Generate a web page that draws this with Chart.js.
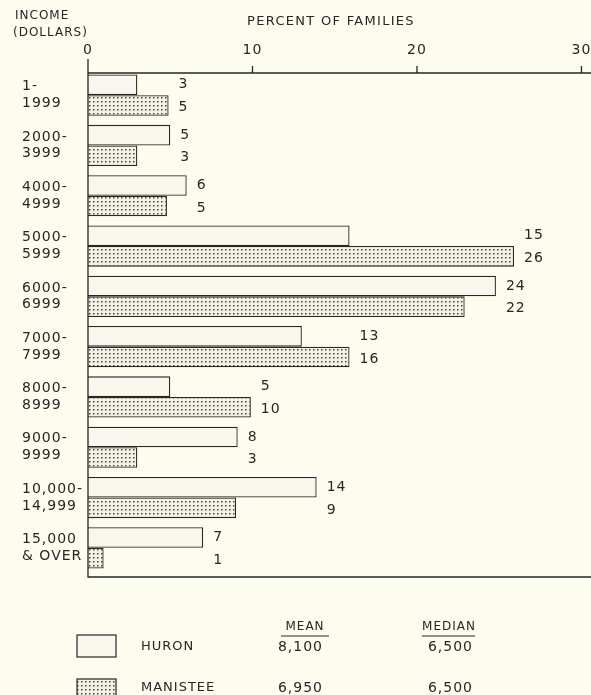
<!DOCTYPE html>
<html>
<head>
<meta charset="utf-8">
<script src="https://cdn.jsdelivr.net/npm/chart.js@4.4.1/dist/chart.umd.min.js"></script>
<style>
  html, body { margin: 0; padding: 0; background: #fdfdef; }
  #chart { width: 591px; height: 695px; }
</style>
</head>
<body>
<div id="chart"><canvas></canvas></div>
<script>
const chart = document.querySelector("#chart canvas");

// income groups (two-line labels)
const incomeGroups = [
  ["1-", "1999"],
  ["2000-", "3999"],
  ["4000-", "4999"],
  ["5000-", "5999"],
  ["6000-", "6999"],
  ["7000-", "7999"],
  ["8000-", "8999"],
  ["9000-", "9999"],
  ["10,000-", "14,999"],
  ["15,000", "& OVER"],
];

// bar lengths as drawn (percent of families)
const huronPct = [3.0, 5.0, 6.0, 15.9, 24.8, 13.0, 5.0, 9.1, 13.9, 7.0];
const manisteePct = [4.9, 3.0, 4.8, 25.9, 22.9, 15.9, 9.9, 3.0, 9.0, 0.95];

// numbers printed next to the bars
const huronText = ["3", "5", "6", "15", "24", "13", "5", "8", "14", "7"];
const manisteeText = ["5", "3", "5", "26", "22", "16", "10", "3", "9", "1"];

const xTicks = [0, 10, 20, 30];

const seriesNames = ["HURON", "MANISTEE"];
const meanIncome = ["8,100", "6,950"];
const medianIncome = ["6,500", "6,500"];

const ink = "#262626";
const paper = "#fdfdef";
const font = "DejaVu Sans";

// dotted fill for Manistee
function dotPattern() {
  const c = document.createElement("canvas");
  c.width = 4;
  c.height = 4;
  const g = c.getContext("2d");
  g.fillStyle = "#f1f1e4";
  g.fillRect(0, 0, 4, 4);
  g.fillStyle = "#45453f";
  g.fillRect(1, 1, 1.5, 1.5);
  return g.createPattern(c, "repeat");
}

const frameAndText = {
  id: "frameAndText",
  beforeDraw(c) {
    const ctx = c.ctx;
    ctx.save();
    ctx.fillStyle = paper;
    ctx.fillRect(0, 0, c.width, c.height);
    ctx.restore();
    // lettering is spaced out a little
    ctx.letterSpacing = "1px";
  },
  afterDraw(c) {
    const ctx = c.ctx;
    const x = c.scales.x;
    const left = x.getPixelForValue(0);
    const top = 73, bottom = 577, right = c.width;

    ctx.save();
    ctx.strokeStyle = ink;
    ctx.lineWidth = 1.3;
    ctx.beginPath();
    ctx.moveTo(left, 59);
    ctx.lineTo(left, bottom);
    ctx.lineTo(right, bottom);
    ctx.moveTo(left, top);
    ctx.lineTo(right, top);
    xTicks.forEach((t) => {
      const px = x.getPixelForValue(t);
      ctx.moveTo(px, top);
      ctx.lineTo(px, top - 7);
    });
    ctx.stroke();

    ctx.fillStyle = ink;
    ctx.textBaseline = "middle";
    ctx.letterSpacing = "1px";

    // headings
    ctx.font = "12px '" + font + "'";
    ctx.textAlign = "left";
    ctx.fillText("INCOME", 15, 16);
    ctx.fillText("(DOLLARS)", 13, 33);
    ctx.font = "13px '" + font + "'";
    ctx.letterSpacing = "1.3px";
    ctx.textAlign = "center";
    ctx.fillText("PERCENT OF FAMILIES", 331, 22);
    ctx.letterSpacing = "1px";

    // value labels, one column per group
    const m0 = c.getDatasetMeta(0), m1 = c.getDatasetMeta(1);
    ctx.font = "14px '" + font + "'";
    ctx.textAlign = "left";
    incomeGroups.forEach((g, i) => {
      const b0 = m0.data[i], b1 = m1.data[i];
      const lx = Math.max(b0.x, b1.x) + 10;
      ctx.fillText(huronText[i], lx, b0.y);
      ctx.fillText(manisteeText[i], lx, b1.y + 2);
    });

    // legend and stats
    const rows = [647, 688];
    const boxes = [[77, 635, 39, 22], [77, 679, 39, 20]];
    const fills = ["#f7f7ee", c.data.datasets[1].backgroundColor];
    ctx.lineWidth = 1.2;
    rows.forEach((y, i) => {
      const b = boxes[i];
      ctx.fillStyle = fills[i];
      ctx.fillRect(b[0], b[1], b[2], b[3]);
      ctx.strokeRect(b[0], b[1], b[2], b[3]);
      ctx.fillStyle = ink;
      ctx.font = "13px '" + font + "'";
      ctx.textAlign = "left";
      ctx.fillText(seriesNames[i], 141, y);
      ctx.font = "14px '" + font + "'";
      ctx.textAlign = "right";
      ctx.fillText(meanIncome[i], 323, y);
      ctx.fillText(medianIncome[i], 473, y);
    });
    ctx.font = "12px '" + font + "'";
    ctx.textAlign = "center";
    ctx.fillText("MEAN", 305, 627);
    ctx.fillText("MEDIAN", 449, 627);
    ctx.beginPath();
    ctx.moveTo(281, 636);
    ctx.lineTo(329, 636);
    ctx.moveTo(422, 636);
    ctx.lineTo(475, 636);
    ctx.stroke();
    ctx.restore();
  },
};

function showChart() {
  new Chart(chart, {
    type: "bar",
    data: {
      labels: incomeGroups,
      datasets: [
        {
          label: "Huron",
          data: huronPct,
          backgroundColor: "#f7f7ee",
          borderColor: ink,
          borderWidth: 1.3,
          barPercentage: 1.0,
          categoryPercentage: 0.82,
        },
        {
          label: "Manistee",
          data: manisteePct,
          backgroundColor: dotPattern(),
          borderColor: ink,
          borderWidth: 1.3,
          barPercentage: 1.0,
          categoryPercentage: 0.82,
        },
      ],
    },
    options: {
      indexAxis: "y",
      responsive: false,
      animation: false,
      devicePixelRatio: 1,
      layout: { padding: { left: 22, top: 0, right: 0, bottom: 122 } },
      plugins: {
        legend: { display: false },
        tooltip: { enabled: false },
      },
      scales: {
        x: {
          position: "top",
          min: 0,
          max: 30.58,
          afterBuildTicks: (s) => { s.ticks = xTicks.map((v) => ({ value: v })); },
          afterFit: (s) => { s.height = 70; s.paddingLeft = 0; s.paddingRight = 0; },
          grid: { display: false },
          border: { display: false },
          ticks: {
            color: ink,
            padding: 3,
            font: { family: font, size: 14 },
          },
        },
        y: {
          afterFit: (s) => { s.width = 66; },
          grid: { display: false },
          border: { display: false },
          ticks: {
            color: ink,
            crossAlign: "far",
            padding: 0,
            autoSkip: false,
            font: { family: font, size: 14, lineHeight: 1.2 },
          },
        },
      },
    },
    plugins: [frameAndText],
  });
}

chart.width = 591;
chart.height = 695;
showChart();
</script>
</body>
</html>
